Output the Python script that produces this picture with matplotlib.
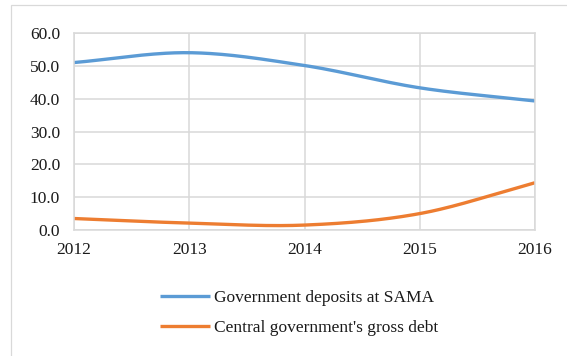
import numpy as np
import matplotlib.pyplot as plt
from matplotlib.patches import Rectangle

plt.rcParams['font.family'] = ['Liberation Serif', 'DejaVu Serif']

years = [2012, 2013, 2014, 2015, 2016]
deposits = [51.0, 54.0, 50.1, 43.3, 39.3]   # Government deposits at SAMA
debt = [3.5, 2.1, 1.5, 5.0, 14.4]           # Central government's gross debt
yticks = [0, 10, 20, 30, 40, 50, 60]


def smooth(x, y, n=40):
    # Catmull-Rom curve through the points, like Excel's smoothed line
    x = np.asarray(x, float)
    y = np.asarray(y, float)
    px = np.concatenate([[2 * x[0] - x[1]], x, [2 * x[-1] - x[-2]]])
    py = np.concatenate([[2 * y[0] - y[1]], y, [2 * y[-1] - y[-2]]])
    xs, ys = [], []
    t = np.linspace(0, 1, n)
    for i in range(1, len(px) - 2):
        for p, out in ((px, xs), (py, ys)):
            p0, p1, p2, p3 = p[i - 1], p[i], p[i + 1], p[i + 2]
            out.extend(0.5 * ((2 * p1) + (-p0 + p2) * t
                              + (2 * p0 - 5 * p1 + 4 * p2 - p3) * t ** 2
                              + (-p0 + 3 * p1 - 3 * p2 + p3) * t ** 3))
    return xs, ys


fig = plt.figure(figsize=(5.67, 3.56), dpi=100)
fig.patches.append(Rectangle((11 / 567, -0.1), 1.2, 1 - 5 / 356 + 0.1,
                             transform=fig.transFigure, fill=False,
                             edgecolor='#d9d9d9', lw=0.9))

ax = fig.add_axes([74 / 567, 1 - 230 / 356, 461 / 567, 197 / 356])
ax.plot(*smooth(years, deposits), color='#5b9bd5', lw=2.4, solid_capstyle='butt',
        label='Government deposits at SAMA')
ax.plot(*smooth(years, debt), color='#ed7d31', lw=2.4, solid_capstyle='butt',
        label="Central government's gross debt")

ax.set_xlim(2012, 2016)
ax.set_ylim(0, 60)
ax.set_xticks(years)
ax.set_yticks(yticks)
ax.set_yticklabels([f'{v:.1f}' for v in yticks])
ax.grid(True, color='#d9d9d9', lw=1.1)
ax.set_axisbelow(True)
for s in ax.spines.values():
    s.set_color('#d9d9d9')
    s.set_linewidth(1.1)
ax.tick_params(length=0, labelsize=12.5, colors='#1a1a1a')
ax.tick_params(axis='x', pad=9)
ax.tick_params(axis='y', pad=10)

ax.legend(loc='upper left', bbox_to_anchor=(144 / 567, 1 - 274 / 356),
          bbox_transform=fig.transFigure, frameon=False, fontsize=12.5,
          handlelength=2.9, handletextpad=0.23, labelspacing=0.8,
          labelcolor='#1a1a1a')

fig.savefig('out.png', dpi=100)
